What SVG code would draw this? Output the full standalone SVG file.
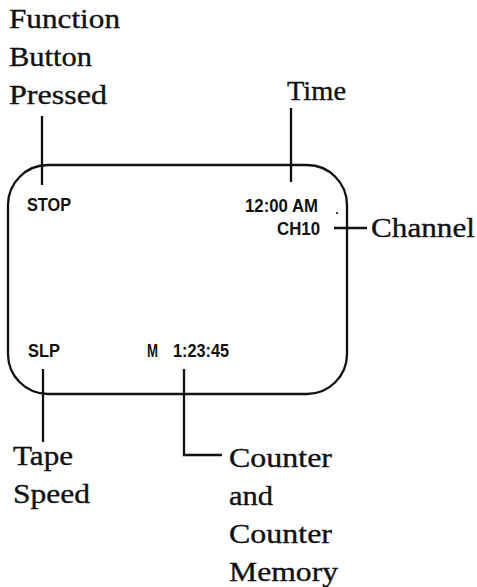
<svg xmlns="http://www.w3.org/2000/svg" width="477" height="587" viewBox="0 0 477 587">
<style>
.lbl{font-family:"Liberation Serif","Times New Roman",serif;font-size:27px;fill:#111;stroke:#111;stroke-width:0.35}
.scr{font-family:"Liberation Sans",Arial,sans-serif;font-size:17.5px;font-weight:bold;fill:#111}
.ln{stroke:#111;stroke-width:2.3;fill:none}
</style>
<rect width="477" height="587" fill="#fff"/>
<g id="screen">
<rect class="ln" x="8" y="165" width="339" height="229" rx="40" ry="40"/>
<text class="scr" x="27" y="211" textLength="44" lengthAdjust="spacingAndGlyphs">STOP</text>
<text class="scr" x="245" y="212" textLength="73" lengthAdjust="spacingAndGlyphs">12:00 AM</text>
<text class="scr" x="277" y="235" textLength="43" lengthAdjust="spacingAndGlyphs">CH10</text>
<text class="scr" x="28" y="357" textLength="32" lengthAdjust="spacingAndGlyphs">SLP</text>
<text class="scr" y="357"><tspan x="147" textLength="11" lengthAdjust="spacingAndGlyphs">M</tspan><tspan x="173" textLength="56" lengthAdjust="spacingAndGlyphs">1:23:45</tspan></text>
<circle cx="337" cy="213" r="1.1" fill="#111"/>
</g>
<g id="connectors">
<line class="ln" x1="42" y1="116" x2="42" y2="185"/>
<line class="ln" x1="291" y1="108" x2="291" y2="182"/>
<line class="ln" x1="334" y1="228" x2="367" y2="228"/>
<line class="ln" x1="43" y1="369" x2="43" y2="442"/>
<polyline class="ln" points="184,369 184,455 222,455"/>
</g>
<g id="function-label">
<text class="lbl" x="9" y="28" textLength="111" lengthAdjust="spacingAndGlyphs">Function</text>
<text class="lbl" x="9" y="66" textLength="83" lengthAdjust="spacingAndGlyphs">Button</text>
<text class="lbl" x="9" y="104" textLength="98" lengthAdjust="spacingAndGlyphs">Pressed</text>
</g>
<g id="time-label">
<text class="lbl" x="287" y="100" textLength="59" lengthAdjust="spacingAndGlyphs">Time</text>
</g>
<g id="channel-label">
<text class="lbl" x="371" y="237" textLength="104" lengthAdjust="spacingAndGlyphs">Channel</text>
</g>
<g id="tape-label">
<text class="lbl" x="13" y="465" textLength="60" lengthAdjust="spacingAndGlyphs">Tape</text>
<text class="lbl" x="13" y="503" textLength="77" lengthAdjust="spacingAndGlyphs">Speed</text>
</g>
<g id="counter-label">
<text class="lbl" x="229" y="467" textLength="103" lengthAdjust="spacingAndGlyphs">Counter</text>
<text class="lbl" x="229" y="505" textLength="44" lengthAdjust="spacingAndGlyphs">and</text>
<text class="lbl" x="229" y="543" textLength="103" lengthAdjust="spacingAndGlyphs">Counter</text>
<text class="lbl" x="229" y="581" textLength="109" lengthAdjust="spacingAndGlyphs">Memory</text>
</g>
</svg>
